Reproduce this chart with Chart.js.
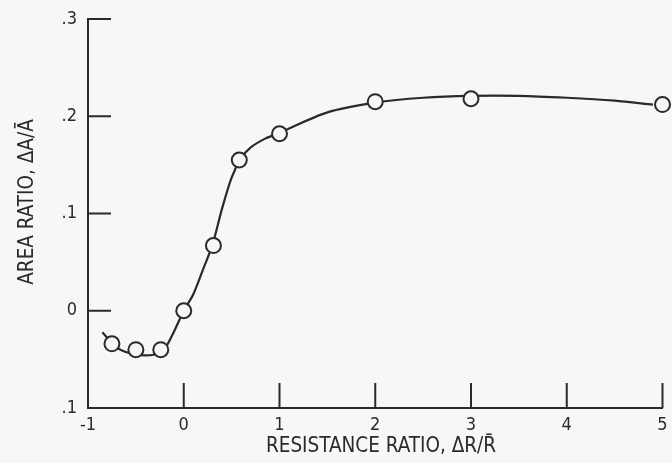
<!DOCTYPE html>
<html>
<head>
<meta charset="utf-8">
<script src="https://cdn.jsdelivr.net/npm/chart.js@4"></script>
<style>
html,body{margin:0;padding:0;background:#f7f7f7;}
#wrap{width:672px;height:463px;}
</style>
</head>
<body>
<div id="wrap"><canvas id="c" width="672" height="463"></canvas></div>
<script>
// measured points (circles)
const pointX = [-0.75, -0.5, -0.24, 0.0, 0.31, 0.58, 1.0, 2.0, 3.0, 5.0];
const pointY = [-0.034, -0.040, -0.040, 0.0, 0.067, 0.155, 0.182, 0.215, 0.218, 0.212];
// faired curve
const curveX = [-0.85, -0.7, -0.5, -0.3, -0.2, -0.1, 0.0, 0.1, 0.2, 0.3, 0.4, 0.5, 0.6, 0.7, 0.85, 1.0, 1.5, 2.0, 2.5, 3.0, 3.5, 4.0, 4.5, 4.9];
const curveY = [-0.022, -0.038, -0.045, -0.045, -0.039, -0.021, 0.000, 0.017, 0.042, 0.068, 0.105, 0.137, 0.157, 0.168, 0.177, 0.183, 0.204, 0.214, 0.219, 0.221, 0.221, 0.219, 0.216, 0.212];
const xTicks = [-1, 0, 1, 2, 3, 4, 5];
const yTicks = [-0.1, 0, 0.1, 0.2, 0.3];
const yTickLabels = ['.1', '0', '.1', '.2', '.3'];
const xTitle = 'RESISTANCE RATIO, \u0394R/R\u0304';
const yTitle = 'AREA RATIO, \u0394A/\u0100';

const FONT = "'Liberation Sans Narrow', 'DejaVu Sans Condensed', sans-serif";
const INK = '#2a2a2a';

const inwardTicks = {
  id: 'inwardTicks',
  afterDraw(chart) {
    const ctx = chart.ctx;
    const xs = chart.scales.x, ys = chart.scales.y;
    const ca = chart.chartArea;
    ctx.save();
    ctx.strokeStyle = INK;
    ctx.lineWidth = 2;
    ctx.beginPath();
    xTicks.forEach(v => {
      const px = xs.getPixelForValue(v);
      if (v === -1) return;
      ctx.moveTo(px, ca.bottom);
      ctx.lineTo(px, ca.bottom - 25);
    });
    yTicks.forEach(v => {
      const py = ys.getPixelForValue(v);
      if (v === -0.1) return;
      ctx.moveTo(ca.left, py);
      ctx.lineTo(ca.left + 23, py);
    });
    ctx.stroke();
    // titles
    ctx.fillStyle = INK;
    ctx.font = '20.5px ' + FONT;
    ctx.textAlign = 'center';
    ctx.textBaseline = 'middle';
    ctx.fillText(xTitle, 381, 447);
    ctx.translate(28, 202);
    ctx.rotate(-Math.PI / 2);
    ctx.fillText(yTitle, 0, 0);
    ctx.restore();
  }
};

const xyc = (xs, ys) => xs.map((x, i) => ({x: x, y: ys[i]}));

new Chart(document.getElementById('c'), {
  type: 'scatter',
  data: {
    datasets: [
      {
        data: xyc(curveX, curveY),
        showLine: true,
        borderColor: INK,
        borderWidth: 2.2,
        pointRadius: 0,
        tension: 0.3,
        order: 2
      },
      {
        data: xyc(pointX, pointY),
        showLine: false,
        pointRadius: 7.5,
        pointBorderWidth: 2,
        pointBackgroundColor: '#f7f7f7',
        pointBorderColor: INK,
        order: 1,
        clip: false
      }
    ]
  },
  options: {
    responsive: false,
    animation: false,
    devicePixelRatio: 1,
    layout: {padding: {top: 19, right: 3, left: 0, bottom: 0}},
    plugins: {legend: {display: false}, tooltip: {enabled: false}},
    scales: {
      x: {
        type: 'linear', min: -1, max: 5,
        afterFit: s => { s.height = 55; s.paddingLeft = 0; s.paddingRight = 0; },
        afterBuildTicks: s => { s.ticks = xTicks.map(v => ({value: v})); },
        grid: {display: false, drawTicks: false},
        border: {display: true, color: INK, width: 2},
        ticks: {color: INK, font: {family: FONT, size: 18}, padding: 7, maxRotation: 0, autoSkip: false,
          callback: v => String(v)}
      },
      y: {
        type: 'linear', min: -0.1, max: 0.3,
        afterFit: s => { s.width = 88; s.paddingTop = 0; s.paddingBottom = 0; },
        afterBuildTicks: s => { s.ticks = yTicks.map(v => ({value: v})); },
        grid: {display: false, drawTicks: false},
        border: {display: true, color: INK, width: 2},
        ticks: {color: INK, font: {family: FONT, size: 18}, padding: 11, autoSkip: false,
          callback: (v) => { const i = yTicks.findIndex(t => Math.abs(t - v) < 1e-9); return i >= 0 ? yTickLabels[i] : ''; }}
      }
    }
  },
  plugins: [inwardTicks]
});
</script>
</body>
</html>
